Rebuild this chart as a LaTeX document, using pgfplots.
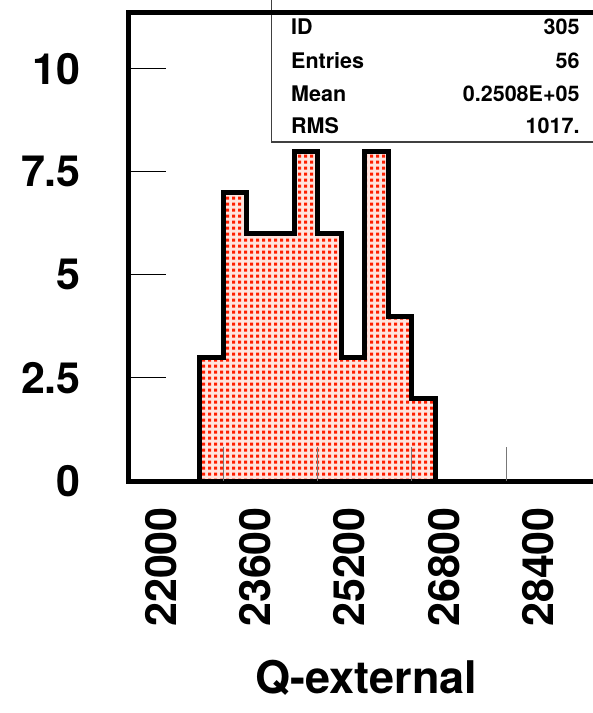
\documentclass[border=0pt]{standalone}
\usepackage{fontspec}
\setmainfont{TeX Gyre Heros}
\usepackage{pgfplots}
\pgfplotsset{compat=1.18}
\usetikzlibrary{patterns}
\definecolor{pawred}{RGB}{255,30,0}
\definecolor{pawpink}{RGB}{255,228,222}
\definecolor{tickgray}{RGB}{120,120,120}
\pgfdeclarepatternformonly{pawdots}{\pgfqpoint{0pt}{0pt}}{\pgfqpoint{6.1pt}{6.4pt}}{\pgfqpoint{6.1pt}{6.4pt}}{%
 \pgfpathrectangle{\pgfqpoint{1.3pt}{1.4pt}}{\pgfqpoint{3.5pt}{3.5pt}}\pgfusepath{fill}}
\tikzset{statfont/.style={font=\fontsize{21.5}{21.5}\selectfont\bfseries}}

\begin{document}
\begin{tikzpicture}
\useasboundingbox (-129pt,-232pt) rectangle (464pt,481pt);
\begin{axis}[
 at={(0pt,0pt)}, anchor=south west,
 scale only axis, width=464pt, height=469pt,
 xmin=22000, xmax=29873, ymin=0, ymax=11.38,
 clip=false, axis on top,
 axis line style={draw=none},
 scaled x ticks=false, scaled y ticks=false,
 xtick={23600,25200,26800,28400},
 xticklabels={23600,25200,26800,28400},
 extra x ticks={22000},
 extra x tick labels={22000},
 extra x tick style={xtick style={draw=none}},
 ytick={0,2.5,5,7.5,10},
 yticklabels={0,2.5,5,7.5,10},
 xtick pos=bottom, ytick pos=left,
 tick align=inside,
 minor tick num=0,
 xtick style={draw=tickgray, line width=1pt, /pgfplots/major tick length=34pt},
 ytick style={draw=black, line width=1pt, /pgfplots/major tick length=37pt},
 ticklabel style={font=\fontsize{43}{43}\selectfont\bfseries, inner sep=0pt},
 xticklabel style={xshift=32pt, yshift=-26pt, rotate=90, anchor=east},
 yticklabel style={anchor=east, xshift=-48pt},
 xlabel={Q-external},
 xlabel style={at={(axis description cs:0.512,0)}, anchor=base, yshift=-212pt, font=\fontsize{45}{45}\selectfont\bfseries},
]
\addplot[const plot, draw=black, line width=5pt, line join=miter, preaction={fill=pawpink}, pattern=pawdots, pattern color=pawred]
 coordinates {(23200,0) (23200,3) (23600,7) (24000,6) (24400,6) (24800,8) (25200,6) (25600,3) (26000,8) (26400,4) (26800,2) (27200,2) (27200,0)} -- cycle;
\draw[draw=black!75, line width=1.3pt, fill=white] (rel axis cs:0.3075,0.7228) rectangle (rel axis cs:1.05,1.05);
\node[anchor=base west, statfont] at (rel axis cs:0.342,0.951) {ID};
\node[anchor=base west, statfont] at (rel axis cs:0.342,0.8806) {Entries};
\node[anchor=base west, statfont] at (rel axis cs:0.342,0.810) {Mean};
\node[anchor=base west, statfont] at (rel axis cs:0.342,0.742) {RMS};
\node[anchor=base east, statfont] at (rel axis cs:0.9785,0.951) {305};
\node[anchor=base east, statfont] at (rel axis cs:0.9785,0.8806) {56};
\node[anchor=base east, statfont] at (rel axis cs:0.9785,0.810) {0.2508E+05};
\node[anchor=base east, statfont] at (rel axis cs:0.9785,0.742) {1017.};
\draw[line width=5pt, line join=miter] (rel axis cs:1.05,1) -- (rel axis cs:0,1) -- (rel axis cs:0,0) -- (rel axis cs:1.05,0);
\end{axis}
\end{tikzpicture}
\end{document}
